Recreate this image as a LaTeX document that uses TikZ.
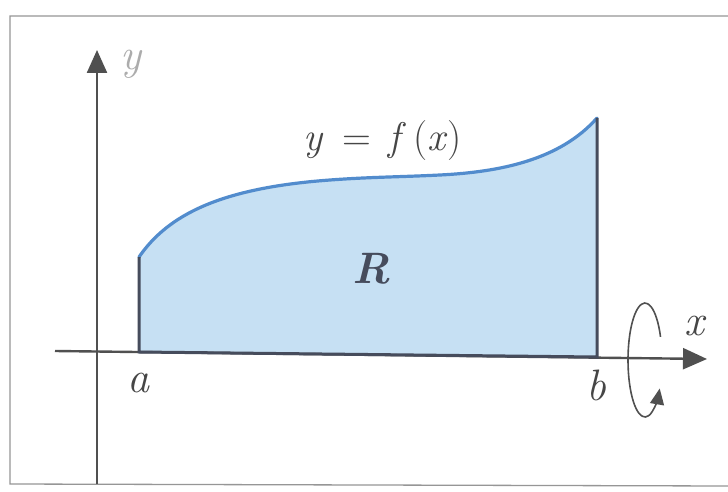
\documentclass[tikz,border=0pt]{standalone}
\usetikzlibrary{arrows.meta,calc}
\definecolor{regfill}{RGB}{198,224,243}
\definecolor{curveblue}{RGB}{82,140,205}
\definecolor{edgedark}{RGB}{70,76,92}
\definecolor{axisgray}{RGB}{80,80,80}
\definecolor{framegray}{RGB}{150,150,150}
\definecolor{labelgray}{RGB}{70,70,70}
\begin{document}
\begin{tikzpicture}[x=1pt,y=-1pt,
  lbl/.style={font=\fontsize{44}{48}\selectfont\itshape, text=labelgray, inner sep=0pt, anchor=base},
  axisline/.style={draw=axisgray, line width=2.4pt},
  edgeline/.style={draw=edgedark, line width=3pt},
  frameline/.style={draw=framegray, line width=1.3pt},
  rotline/.style={draw=axisgray, line width=1.6pt}]
\useasboundingbox (0,0) rectangle (728,492);
\fill[white] (0,0) rectangle (728,492);
% frame
\coordinate (f1) at (10,16);
\coordinate (f2) at (728,16);
\coordinate (f3) at (728,486);
\coordinate (f4) at (10,484);
\draw[frameline] (f2) -- (f1) -- (f4) -- (f3);
% region
\coordinate (A0) at (139,352);
\coordinate (A1) at (139,257);
\coordinate (C1) at (330,180);
\coordinate (C2) at (440,175);
\coordinate (B1) at (597,118);
\coordinate (B0) at (597,357);
\def\curvepath{(A1) .. controls (168,215) and (220,188) .. (C1) .. controls (370,177) and (400,177) .. (C2) .. controls (500,172) and (560,160) .. (B1)}
\fill[regfill] (A0) -- (A1) .. controls (168,215) and (220,188) .. (C1) .. controls (370,177) and (400,177) .. (C2) .. controls (500,172) and (560,160) .. (B1) -- (B0) -- cycle;
\draw[curveblue, line width=3.2pt, line cap=round] (A1) .. controls (168,215) and (220,188) .. (C1) .. controls (370,177) and (400,177) .. (C2) .. controls (500,172) and (560,160) .. (B1);
% axes
\coordinate (yb) at (97,484);
\coordinate (yt) at (97,50);
\coordinate (xl) at (55,351);
\coordinate (xr) at (707,359);
\draw[axisline, -{Triangle[length=23pt,width=20pt]}] (yb) -- (yt);
\draw[axisline, -{Triangle[length=24pt,width=21pt]}] (xl) -- (xr);
% edges
\draw[edgeline] (A1) -- (A0) -- (B0) -- (B1);
% rotation arrow
\coordinate (rc) at (645,360);
\coordinate (rs) at ($(rc)+(-24:17 and 57)$);
\draw[rotline, -{Triangle[length=16pt,width=14pt]}] (rs) arc[start angle=-24, end angle=-330, x radius=17, y radius=57];
% labels
\node[lbl, text=labelgray!45] (ylab) at (131,70) {y};
\node[lbl, font=\fontsize{40}{44}\selectfont] (flab) at (383,150) {\textit{y}\hspace{0.45em}=\hspace{0.45em}\textit{f}\,(\textit{x})};
\node[lbl, font=\fontsize{44}{48}\selectfont\bfseries\itshape, text=edgedark] (rlab) at (371,283) {R};
\node[lbl] (alab) at (138,392) {a};
\node[lbl] (blab) at (596,400) {b};
\node[lbl] (xlab) at (694,335) {x};
\end{tikzpicture}
\end{document}
